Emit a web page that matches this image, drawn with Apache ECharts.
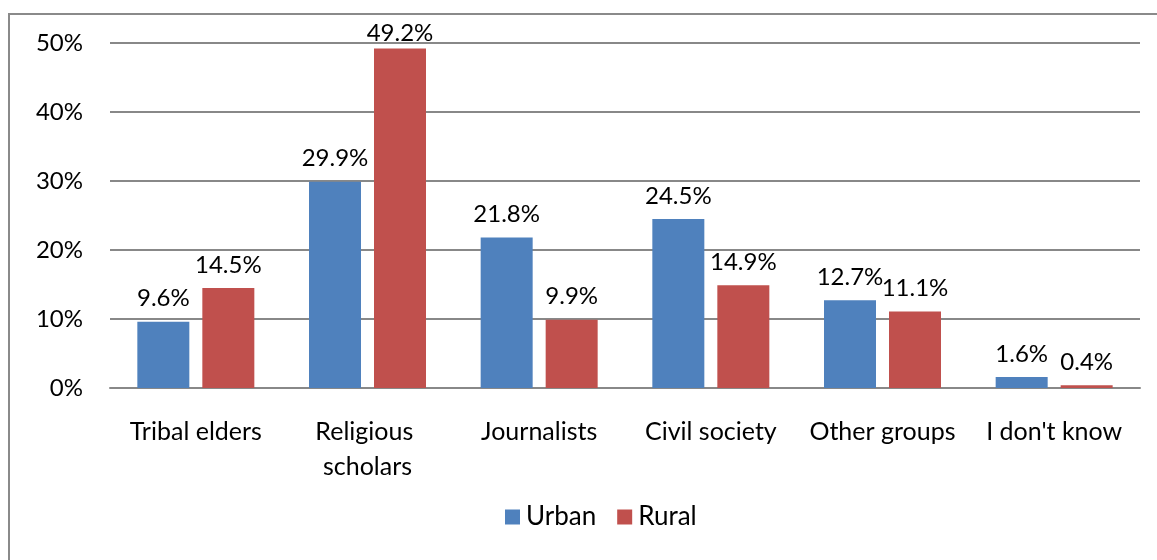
<!DOCTYPE html>
<html><head><meta charset="utf-8">
<script src="https://cdn.jsdelivr.net/npm/echarts@6/dist/echarts.min.js"></script>
<style>html,body{margin:0;padding:0;background:#fff}#c{width:1157px;height:560px;position:relative}
#frame{position:absolute;left:8px;top:13px;width:1200px;height:600px;border:2px solid #8a8a8a;box-sizing:border-box;pointer-events:none}</style>
</head><body><div id="c"></div><div id="frame" style="position:absolute"></div>
<script>
const categories = ["Tribal elders","Religious scholars","Journalists","Civil society","Other groups","I don't know"];
const urban = [9.6, 29.9, 21.8, 24.5, 12.7, 1.6];
const rural = [14.5, 49.2, 9.9, 14.9, 11.1, 0.4];
const seriesNames = ["Urban","Rural"];
const FONT = "Lato";
const chart = echarts.init(document.getElementById('c'), null, {renderer:'canvas'});
const lbl = {show:true, position:'top', distance:11, color:'#000', fontFamily:FONT, fontSize:24, formatter: p => p.value.toFixed(1) + '%'};
// labels near the top of the plot are pulled closer to their bar to stay inside the chart
const withLabels = arr => arr.map(v => v > 45 ? {value:v, label:{distance:3}} : v);
chart.setOption({
  animation:false,
  textStyle:{fontFamily:FONT},
  grid:{left:110, right:17, top:43, bottom:172, containLabel:false},
  legend:{bottom:25, left:500, icon:'rect', itemWidth:15, itemHeight:15, itemGap:21,
    textStyle:{fontFamily:FONT, fontSize:26, color:'#000', padding:[0,0,0,1]}, data:seriesNames},
  xAxis:{type:'category', data:categories,
    axisLine:{show:true, lineStyle:{color:'#888', width:2}}, axisTick:{show:false},
    axisLabel:{color:'#000', fontFamily:FONT, fontSize:25, margin:26, lineHeight:35, width:168, overflow:'break', interval:0}},
  yAxis:{type:'value', min:0, max:50, interval:10,
    axisLabel:{color:'#000', fontFamily:FONT, fontSize:24, margin:27, formatter:'{value}%'},
    axisLine:{show:false}, axisTick:{show:false},
    splitLine:{lineStyle:{color:'#888', width:2}}},
  series:[
    {name:seriesNames[0], type:'bar', data:withLabels(urban), barWidth:52, barGap:'25%', itemStyle:{color:'#4F81BD'}, label:lbl},
    {name:seriesNames[1], type:'bar', data:withLabels(rural), barWidth:52, barGap:'25%', itemStyle:{color:'#C0504D'}, label:lbl}
  ]
});
</script></body></html>
